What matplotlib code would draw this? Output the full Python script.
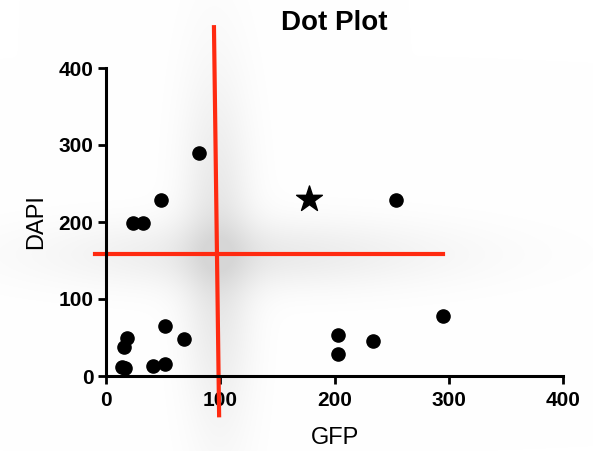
import matplotlib
matplotlib.use("Agg")
import matplotlib.pyplot as plt
import numpy as np

plt.rcParams['font.family'] = ['Liberation Sans', 'DejaVu Sans']

# data
gfp = [81, 48, 24, 32, 52, 68, 18, 16, 14, 17, 41, 52, 203, 203, 234, 295, 254]
dapi = [290, 229, 199, 199, 65, 48, 49, 38, 12, 10, 13, 15, 53, 28, 45, 78, 229]
star_gfp = [178]
star_dapi = [230]

# gate lines (data units)
vgate_x = [94.5, 99]
vgate_y = [453, -51]
hgate_x = [-10, 295]
hgate_y = [158, 158]

W, H = 593, 451
fig = plt.figure(figsize=(W / 100, H / 100), dpi=100)

# soft grey shadow behind the gate crossing
bg = fig.add_axes([0, 0, 1, 1], zorder=-1)
bg.set_xlim(0, W)
bg.set_ylim(H, 0)
bg.axis('off')
yy, xx = np.mgrid[0:H, 0:W]
xv = 214 + (yy - 27) * (5 / 388)
dv = np.exp(-(xx - xv) ** 2 / (2 * 24 ** 2)) * np.exp(-(yy - 254) ** 2 / (2 * 120 ** 2))
dh = np.exp(-(yy - 254) ** 2 / (2 * 24 ** 2)) * np.exp(-(xx - 250) ** 2 / (2 * 140 ** 2))
dark = np.clip(0.10 * dv + 0.08 * dh, 0, 0.16)
img = np.ones((H, W, 3)) * (1 - dark)[..., None]
bg.imshow(img, extent=(0, W, H, 0), aspect='auto', interpolation='bilinear')

ax = fig.add_axes([106 / W, 1 - 376 / H, (563 - 106) / W, (376 - 68) / H])
ax.set_facecolor('none')

ax.scatter(gfp, dapi, s=90, color='black', zorder=3, clip_on=False)
ax.scatter(star_gfp, star_dapi, s=380, marker='*', color='black', zorder=3)

ax.plot(vgate_x, vgate_y, color='#ff2a10', lw=3, clip_on=False, zorder=2)
ax.plot(hgate_x, hgate_y, color='#ff2a10', lw=3, clip_on=False, zorder=2)

ax.set_xlim(0, 400)
ax.set_ylim(0, 400)
ax.set_xticks([0, 100, 200, 300, 400])
ax.set_yticks([0, 100, 200, 300, 400])

for side in ['top', 'right']:
    ax.spines[side].set_visible(False)
for side in ['left', 'bottom']:
    ax.spines[side].set_linewidth(2.2)
ax.tick_params(direction='out', length=6, width=2, labelsize=15, pad=3)
ax.tick_params(axis='x', pad=5)
for lab in ax.get_xticklabels() + ax.get_yticklabels():
    lab.set_fontweight('bold')

ax.set_xlabel('GFP', fontsize=17, labelpad=12)
ax.set_ylabel('DAPI', fontsize=17, labelpad=8)
ax.set_title('Dot Plot', fontsize=20, fontweight='bold', pad=27)

fig.savefig('out.png', dpi=100)
